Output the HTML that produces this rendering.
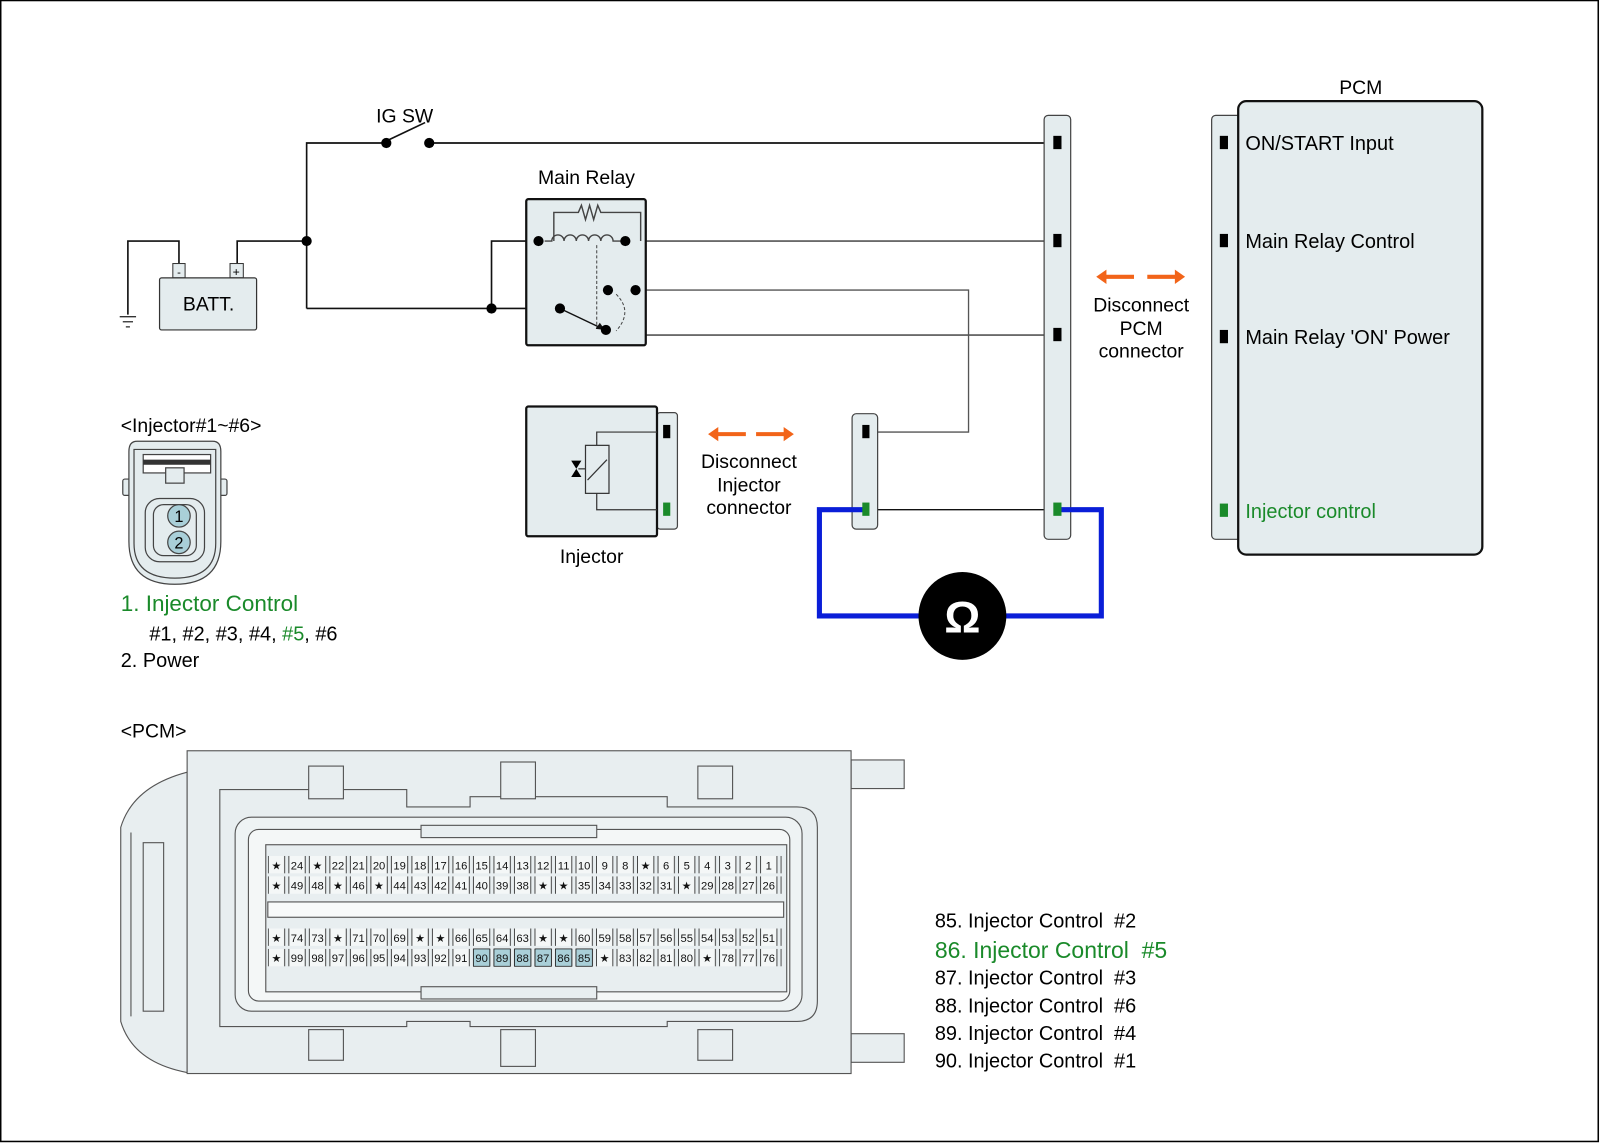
<!DOCTYPE html>
<html><head><meta charset="utf-8"><style>
html,body{margin:0;padding:0;background:#fff}
svg{display:block}
text{font-family:"Liberation Sans",Arial,sans-serif}
</style></head><body>
<svg width="1600" height="1143" viewBox="0 0 1566 1119" xmlns="http://www.w3.org/2000/svg">
<defs>
<pattern id="cell" x="262" y="0" width="20.08" height="1119" patternUnits="userSpaceOnUse">
<rect x="0.5" y="0" width="16" height="1119" fill="#f4f7f7" stroke="#222" stroke-width="0.8"/>
</pattern>
</defs>
<rect x="0.5" y="0.5" width="1564" height="1117" fill="#fff" stroke="#000" stroke-width="1.5"/>

<g stroke="#111" stroke-width="1.6" fill="none">
<path d="M300,302 V140 H375"/>
<path d="M378,138 L416,120"/>
<path d="M420,140 H1035"/>
<path d="M232,258 V236 H300"/>
<path d="M175,258 V236 H125 V308"/>
<path d="M300,302 H548"/>
<path d="M481,302 V236 H527"/>
<path d="M612,236 H1035" stroke="#555"/>
<path d="M622,284 H948 V423 H848" stroke="#555" stroke-width="1.3"/>
<path d="M595,284 H622 V328 H1035" stroke="#555"/>
<path d="M848,499 H1035" stroke-width="1.3"/>
</g>
<g stroke="#333" stroke-width="1.3"><line x1="117" y1="310" x2="133" y2="310"/><line x1="120" y1="315" x2="130" y2="315"/><line x1="123" y1="320" x2="127" y2="320"/></g>
<rect x="169" y="258" width="12" height="14" fill="#e4ecee" stroke="#333"/>
<rect x="225" y="258" width="13" height="14" fill="#e4ecee" stroke="#333"/>
<text x="175" y="270" font-size="11" text-anchor="middle">-</text>
<text x="231" y="270" font-size="12" text-anchor="middle">+</text>
<rect x="156" y="272" width="95" height="51" rx="2" fill="#e4ecee" stroke="#333" stroke-width="1.2"/>
<text x="204" y="304" font-size="19" text-anchor="middle">BATT.</text>
<text x="396" y="120" font-size="19" text-anchor="middle">IG SW</text>

<text x="574" y="180" font-size="19" text-anchor="middle">Main Relay</text>
<rect x="515" y="195" width="117" height="143" rx="2" fill="#e4ecee" stroke="#111" stroke-width="2.2"/>
<g stroke="#444" stroke-width="1.4" fill="none">
<path d="M542,236 V208 H566 l3,-7 l4,14 l4,-14 l4,14 l4,-14 l3,7 H627 V236"/>
<path d="M533,236 H540 a6,6 0 0 1 12,0 a6,6 0 0 1 12,0 a6,6 0 0 1 12,0 a6,6 0 0 1 12,0 a6,6 0 0 1 12,0 H612"/>
<path d="M584,240 V322" stroke-dasharray="3,2" stroke-width="1"/>
<path d="M603,288 Q620,305 603,324" stroke-dasharray="3,2" stroke-width="1"/>
<path d="M548,302 L590,322" stroke="#111"/>
</g>
<path d="M592,323 l-9,-1 l4,-6 z" fill="#111"/>
<g fill="#000">
<circle cx="300" cy="236" r="5"/><circle cx="481" cy="302" r="5"/>
<circle cx="527" cy="236" r="5"/><circle cx="612" cy="236" r="5"/>
<circle cx="548" cy="302" r="5"/><circle cx="593" cy="323" r="5"/>
<circle cx="595" cy="284" r="5"/><circle cx="622" cy="284" r="5"/>
<circle cx="378" cy="140" r="5"/><circle cx="420" cy="140" r="5"/>
</g>

<rect x="1022" y="113" width="26" height="415" rx="4" fill="#e4ecee" stroke="#444" stroke-width="1.2"/>
<g fill="#000"><rect x="1031" y="133" width="8" height="13"/><rect x="1031" y="229" width="8" height="13"/><rect x="1031" y="321" width="8" height="13"/></g>
<rect x="834" y="405" width="25" height="113" rx="4" fill="#e4ecee" stroke="#444" stroke-width="1.2"/>
<rect x="844" y="416" width="7" height="13" fill="#000"/>

<path d="M848,499 H802 V603 H1078 V499 H1035" fill="none" stroke="#0a1ed8" stroke-width="5"/>
<rect x="844" y="492" width="7" height="13" fill="#1a8a2a"/>
<rect x="1031" y="492" width="8" height="13" fill="#1a8a2a"/>
<circle cx="942" cy="603" r="43" fill="#000"/>
<text x="942" y="619" font-size="44" fill="#fff" text-anchor="middle" font-weight="bold">Ω</text>

<g fill="#f26419" stroke="none">
<path d="M1073,271 l10,-7 v5 h27 v4 h-27 v5 z"/><path d="M1160,271 l-10,-7 v5 h-27 v4 h27 v5 z"/>
<path d="M693,425 l10,-7 v5 h27 v4 h-27 v5 z"/><path d="M777,425 l-10,-7 v5 h-27 v4 h27 v5 z"/>
</g>
<g font-size="19" text-anchor="middle">
<text x="1117" y="305">Disconnect</text><text x="1117" y="328">PCM</text><text x="1117" y="350">connector</text>
<text x="733" y="458">Disconnect</text><text x="733" y="481">Injector</text><text x="733" y="503">connector</text>
</g>

<rect x="643" y="404" width="20" height="114" rx="3" fill="#e4ecee" stroke="#444" stroke-width="1.2"/>
<rect x="515" y="398" width="128" height="127" rx="2" fill="#e4ecee" stroke="#111" stroke-width="2.2"/>
<g stroke="#333" stroke-width="1.2" fill="none">
<path d="M643,423 H584 V436"/><path d="M584,483 V499 H643"/>
<rect x="573" y="436" width="23" height="47" fill="#e4ecee"/>
<path d="M575,470 L594,450"/>
<path d="M566,459 H573"/>
</g>
<path d="M559,451 h10 l-10,16 h10 z" fill="#000"/>
<rect x="649" y="416" width="7" height="13" fill="#000"/>
<rect x="649" y="492" width="7" height="13" fill="#1a8a2a"/>
<text x="579" y="551" font-size="19" text-anchor="middle">Injector</text>

<text x="1332" y="92" font-size="19" text-anchor="middle">PCM</text>
<rect x="1186" y="113" width="30" height="415" rx="4" fill="#e4ecee" stroke="#444" stroke-width="1.2"/>
<rect x="1212" y="99" width="239" height="444" rx="8" fill="#e4ecee" stroke="#111" stroke-width="2.2"/>
<g fill="#000"><rect x="1194" y="133" width="8" height="13"/><rect x="1194" y="229" width="8" height="13"/><rect x="1194" y="323" width="8" height="13"/></g>
<rect x="1194" y="493" width="8" height="13" fill="#1a8a2a"/>
<g font-size="19.5">
<text x="1219" y="147">ON/START Input</text>
<text x="1219" y="243">Main Relay Control</text>
<text x="1219" y="337">Main Relay 'ON' Power</text>
<text x="1219" y="507" fill="#1a8a2a">Injector control</text>
</g>

<text x="118" y="423" font-size="19">&lt;Injector#1~#6&gt;</text>
<g stroke="#444" stroke-width="1.2" fill="#e4ecee">
<rect x="120" y="469" width="8" height="16" rx="2"/><rect x="214" y="469" width="8" height="16" rx="2"/>
<path d="M134,432 H208 Q216,432 216,442 V530 Q216,572 171,572 Q126,572 126,530 V442 Q126,432 134,432 Z"/>
<path d="M131,440 H211 V532 Q211,566 171,566 Q131,566 131,532 Z" fill="none"/>
<rect x="140" y="445" width="66" height="18" fill="#fff"/>
<rect x="162" y="458" width="18" height="15"/>
<rect x="142" y="488" width="58" height="62" rx="14"/>
<rect x="150" y="494" width="42" height="50" rx="10"/>
<circle cx="175" cy="505" r="11" fill="#a9cfd8"/>
<circle cx="175" cy="531" r="11" fill="#a9cfd8"/>
</g>
<rect x="140" y="450" width="66" height="5" fill="#333"/>
<text x="175" y="511" font-size="16" text-anchor="middle">1</text>
<text x="175" y="537" font-size="16" text-anchor="middle">2</text>
<text x="118" y="598" font-size="22" fill="#1a8a2a">1. Injector Control</text>
<text x="146" y="627" font-size="19.5">#1, #2, #3, #4, <tspan fill="#1a8a2a">#5</tspan>, #6</text>
<text x="118" y="653" font-size="19.5">2. Power</text>
<text x="118" y="722" font-size="19">&lt;PCM&gt;</text>

<g stroke="#555" stroke-width="1.1" fill="#e8eef0">
<path d="M183,756 Q130,770 118,810 V1000 Q130,1040 183,1050 Z"/>
<path d="M128,815 V995" fill="none"/><path d="M140,825 H160 V990 H140 Z"/>
<rect x="833" y="744" width="52" height="28"/><rect x="833" y="1012" width="52" height="28"/>
<rect x="183" y="735" width="650" height="316"/>
<path d="M215,773 H398 V790 H460 V780 H653 V790 H780 Q800,790 800,810 V980 Q800,1000 780,1000 H653 V1005 H460 V1000 H398 V1005 H215 Z"/>
<rect x="230" y="800" width="555" height="190" rx="16" fill="#eef3f4"/>
<rect x="243" y="812" width="530" height="168" rx="10" fill="#f4f7f7"/>
<rect x="260" y="827" width="510" height="144"/>
<rect x="262" y="883" width="505" height="15" fill="#f8fafa"/>
<rect x="412" y="808" width="172" height="12"/><rect x="412" y="966" width="172" height="12"/>
<rect x="302" y="750" width="34" height="32"/><rect x="490" y="746" width="34" height="36"/><rect x="683" y="750" width="34" height="32"/>
<rect x="302" y="1008" width="34" height="30"/><rect x="490" y="1008" width="34" height="36"/><rect x="683" y="1008" width="34" height="30"/>
</g>
<rect x="262" y="838" width="503" height="17" fill="url(#cell)"/>
<rect x="262" y="858" width="503" height="17" fill="url(#cell)"/>
<rect x="262" y="909" width="503" height="17" fill="url(#cell)"/>
<rect x="262" y="929" width="503" height="17" fill="url(#cell)"/>
<g fill="#a9cfd8" stroke="#222" stroke-width="0.8">
<rect x="463.3" y="929" width="16" height="17"/><rect x="483.4" y="929" width="16" height="17"/><rect x="503.5" y="929" width="16" height="17"/><rect x="523.6" y="929" width="16" height="17"/><rect x="543.6" y="929" width="16" height="17"/><rect x="563.7" y="929" width="16" height="17"/>
</g>
<g font-size="11" text-anchor="middle" fill="#111">
<text x="270.5" y="851">★</text><text x="290.6" y="851">24</text><text x="310.7" y="851">★</text><text x="330.7" y="851">22</text><text x="350.8" y="851">21</text><text x="370.9" y="851">20</text><text x="391" y="851">19</text><text x="411.1" y="851">18</text><text x="431.1" y="851">17</text><text x="451.2" y="851">16</text><text x="471.3" y="851">15</text><text x="491.4" y="851">14</text><text x="511.5" y="851">13</text><text x="531.5" y="851">12</text><text x="551.6" y="851">11</text><text x="571.7" y="851">10</text><text x="591.8" y="851">9</text><text x="611.9" y="851">8</text><text x="631.9" y="851">★</text><text x="652" y="851">6</text><text x="672.1" y="851">5</text><text x="692.2" y="851">4</text><text x="712.3" y="851">3</text><text x="732.3" y="851">2</text><text x="752.4" y="851">1</text>
<text x="270.5" y="871">★</text><text x="290.6" y="871">49</text><text x="310.7" y="871">48</text><text x="330.7" y="871">★</text><text x="350.8" y="871">46</text><text x="370.9" y="871">★</text><text x="391" y="871">44</text><text x="411.1" y="871">43</text><text x="431.1" y="871">42</text><text x="451.2" y="871">41</text><text x="471.3" y="871">40</text><text x="491.4" y="871">39</text><text x="511.5" y="871">38</text><text x="531.5" y="871">★</text><text x="551.6" y="871">★</text><text x="571.7" y="871">35</text><text x="591.8" y="871">34</text><text x="611.9" y="871">33</text><text x="631.9" y="871">32</text><text x="652" y="871">31</text><text x="672.1" y="871">★</text><text x="692.2" y="871">29</text><text x="712.3" y="871">28</text><text x="732.3" y="871">27</text><text x="752.4" y="871">26</text>
<text x="270.5" y="922">★</text><text x="290.6" y="922">74</text><text x="310.7" y="922">73</text><text x="330.7" y="922">★</text><text x="350.8" y="922">71</text><text x="370.9" y="922">70</text><text x="391" y="922">69</text><text x="411.1" y="922">★</text><text x="431.1" y="922">★</text><text x="451.2" y="922">66</text><text x="471.3" y="922">65</text><text x="491.4" y="922">64</text><text x="511.5" y="922">63</text><text x="531.5" y="922">★</text><text x="551.6" y="922">★</text><text x="571.7" y="922">60</text><text x="591.8" y="922">59</text><text x="611.9" y="922">58</text><text x="631.9" y="922">57</text><text x="652" y="922">56</text><text x="672.1" y="922">55</text><text x="692.2" y="922">54</text><text x="712.3" y="922">53</text><text x="732.3" y="922">52</text><text x="752.4" y="922">51</text>
<text x="270.5" y="942">★</text><text x="290.6" y="942">99</text><text x="310.7" y="942">98</text><text x="330.7" y="942">97</text><text x="350.8" y="942">96</text><text x="370.9" y="942">95</text><text x="391" y="942">94</text><text x="411.1" y="942">93</text><text x="431.1" y="942">92</text><text x="451.2" y="942">91</text><text x="471.3" y="942">90</text><text x="491.4" y="942">89</text><text x="511.5" y="942">88</text><text x="531.5" y="942">87</text><text x="551.6" y="942">86</text><text x="571.7" y="942">85</text><text x="591.8" y="942">★</text><text x="611.9" y="942">83</text><text x="631.9" y="942">82</text><text x="652" y="942">81</text><text x="672.1" y="942">80</text><text x="692.2" y="942">★</text><text x="712.3" y="942">78</text><text x="732.3" y="942">77</text><text x="752.4" y="942">76</text>
</g>

<g font-size="19.5">
<text x="915" y="908">85. Injector Control&#160;&#160;#2</text>
<text x="915" y="938" font-size="22.5" fill="#1a8a2a">86. Injector Control&#160;&#160;#5</text>
<text x="915" y="964">87. Injector Control&#160;&#160;#3</text>
<text x="915" y="991">88. Injector Control&#160;&#160;#6</text>
<text x="915" y="1018">89. Injector Control&#160;&#160;#4</text>
<text x="915" y="1045">90. Injector Control&#160;&#160;#1</text>
</g>
</svg>
</body></html>
